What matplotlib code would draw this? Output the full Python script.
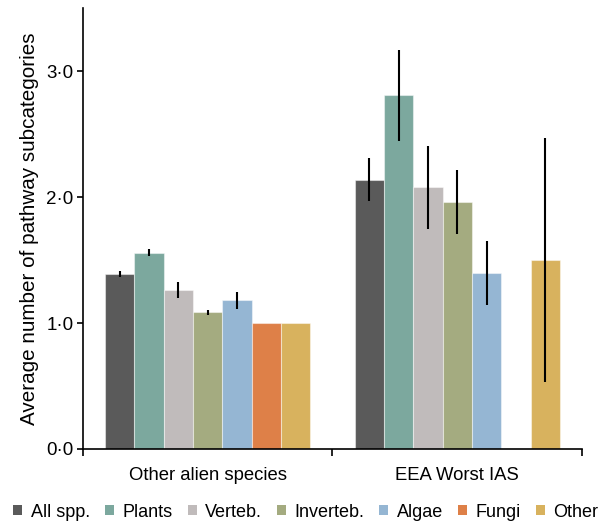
import matplotlib
matplotlib.use("Agg")
import matplotlib.pyplot as plt
import numpy as np
from matplotlib.patches import Patch
from matplotlib.ticker import FuncFormatter

plt.rcParams["font.family"] = ["Liberation Sans", "DejaVu Sans"]

groups = ["Other alien species", "EEA Worst IAS"]
taxa = ["All spp.", "Plants", "Verteb.", "Inverteb.", "Algae", "Fungi", "Other"]
colors = ["#5a5a5a", "#7ca89e", "#c0bbbb", "#a4ab80", "#95b6d3", "#de8048", "#d8b25e"]

# mean per taxon, one list per group (None = no bar)
other_alien = [1.39, 1.56, 1.265, 1.085, 1.18, 1.0, 1.0]
eea_worst = [2.14, 2.81, 2.08, 1.96, 1.40, None, 1.50]
other_alien_err = [0.02, 0.03, 0.062, 0.02, 0.07, 0.0, 0.0]
eea_worst_err = [0.17, 0.36, 0.33, 0.255, 0.255, None, 0.97]

values = [other_alien, eea_worst]
errors = [other_alien_err, eea_worst_err]

fig = plt.figure(figsize=(6.03, 5.23), dpi=100)
ax = fig.add_axes([0.1376, 0.1415, 0.8276, 0.8425])

width = 0.1176
offsets = (np.arange(len(taxa)) - (len(taxa) - 1) / 2) * width
for g, (vals, errs) in enumerate(zip(values, errors)):
    center = g + 0.5
    for i, (v, e) in enumerate(zip(vals, errs)):
        if v is None:
            continue
        ax.bar(center + offsets[i], v, width=width, color=colors[i],
               edgecolor=(1, 1, 1, 0.45), linewidth=0.8, zorder=2)
        if e:
            ax.errorbar(center + offsets[i], v, yerr=e, fmt="none",
                        ecolor="black", elinewidth=1.5, capsize=0, zorder=3)

ax.set_xlim(0, 2)
ax.set_ylim(0, 3.5)
ax.set_xticks([0, 1, 2])
ax.set_xticklabels([])
ax.set_xticks([0.5, 1.5], minor=True)
ax.set_xticklabels(groups, minor=True, fontsize=13.3)
ax.tick_params(axis="x", which="minor", length=0, pad=13)
ax.tick_params(axis="x", which="major", length=5, width=1.2)
ax.set_yticks([0, 1, 2, 3])
ax.yaxis.set_major_formatter(FuncFormatter(lambda v, p: f"{v:.1f}".replace(".", "\u00b7")))
ax.tick_params(axis="y", length=4, width=1.2, labelsize=13.5, pad=3)
ax.set_ylabel("Average number of pathway subcategories", fontsize=14.9, labelpad=5)

for side in ("top", "right"):
    ax.spines[side].set_visible(False)
for side in ("left", "bottom"):
    ax.spines[side].set_linewidth(1.2)

handles = [Patch(facecolor=c, edgecolor="none") for c in colors]
fig.legend(handles, taxa, loc="lower center", bbox_to_anchor=(0.507, -0.016), ncol=7,
           frameon=False, fontsize=13, handlelength=0.5, handleheight=0.5,
           handletextpad=0.45, columnspacing=0.85, borderaxespad=0.2)

fig.savefig("out.png", dpi=100)
